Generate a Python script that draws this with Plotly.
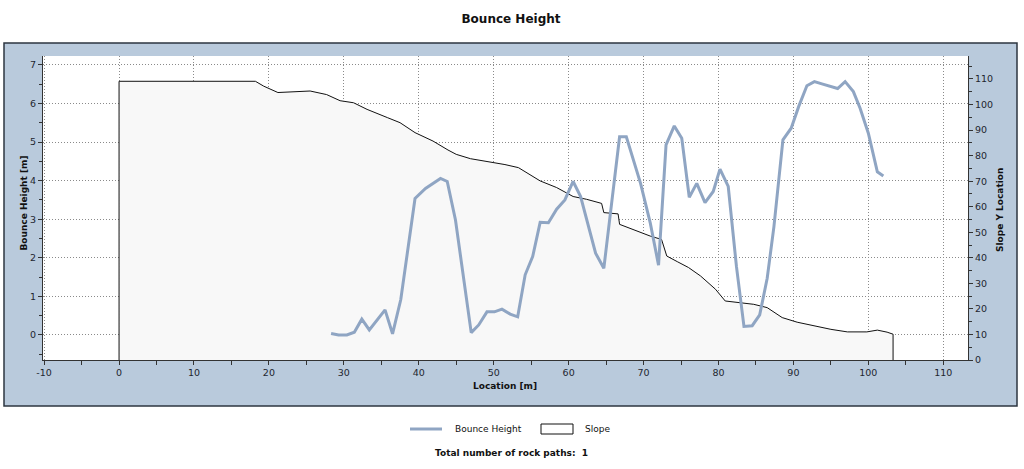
import plotly.graph_objects as go

# ---------------- data ----------------
slope_x = [0, 0, 18.2, 19.3, 21.2, 23.5, 25.5, 27.7, 29.5, 31.3, 33.1, 35.8, 37.5, 39.5, 41.9,
           43.9, 45.0, 46.9, 48.5, 50.0, 51.5, 53.3, 54.8, 56.2, 58.4, 60.6, 62.4, 64.4, 64.7,
           66.6, 66.8, 70.9, 72.4, 73.1, 74.5, 76.0, 77.6, 79.6, 80.9, 82.5, 84.7, 86.5, 88.5,
           90.5, 92.7, 95.0, 97.2, 99.8, 101.2, 102.5, 103.3, 103.3]
slope_y = [0, 109.1, 109.1, 107.2, 104.7, 105.0, 105.3, 103.9, 101.5, 100.7, 98.1, 94.9, 92.9, 89.0, 85.7,
           82.2, 80.5, 78.8, 78.0, 77.3, 76.5, 75.3, 72.5, 70.1, 67.5, 64.0, 62.9, 61.3, 57.7,
           57.2, 53.1, 48.5, 47.2, 40.7, 38.5, 36.2, 32.9, 27.7, 23.1, 22.5, 21.8, 20.5, 16.6,
           14.8, 13.3, 12.0, 11.0, 11.0, 11.7, 10.9, 10.1, 0]

bounce_x = [28.3, 29.3, 30.4, 31.4, 32.4, 33.4, 35.5, 36.5, 37.6, 39.5, 40.9, 42.9, 43.8, 44.9,
            47.0, 48.0, 49.1, 50.1, 51.1, 52.2, 53.2, 54.2, 55.2, 56.2, 57.3, 58.4, 59.5, 60.6,
            61.6, 63.6, 64.7, 66.8, 67.7, 68.5, 69.6, 70.9, 72.0, 73.0, 74.1, 75.1, 76.1, 77.1,
            78.2, 79.3, 80.2, 81.3, 82.4, 83.4, 84.5, 85.5, 86.5, 87.4, 88.6, 89.7, 90.7, 91.8,
            92.8, 93.8, 94.9, 95.9, 96.9, 98.0, 98.9, 100.0, 101.2, 102.0]
bounce_h = [0.04, 0.0, 0.0, 0.07, 0.41, 0.13, 0.65, 0.03, 0.92, 3.54, 3.80, 4.06, 3.98, 2.98,
            0.06, 0.26, 0.60, 0.60, 0.67, 0.54, 0.47, 1.56, 2.03, 2.92, 2.91, 3.26, 3.50, 3.98,
            3.59, 2.12, 1.73, 5.14, 5.14, 4.62, 3.93, 2.90, 1.81, 4.93, 5.42, 5.10, 3.57, 3.93,
            3.43, 3.72, 4.30, 3.85, 1.77, 0.22, 0.24, 0.52, 1.47, 2.81, 5.06, 5.36, 5.92, 6.46,
            6.57, 6.51, 6.44, 6.39, 6.57, 6.31, 5.88, 5.23, 4.23, 4.12]

x_tick_vals = [-10, 0, 10, 20, 30, 40, 50, 60, 70, 80, 90, 100, 110]
x_tick_text = ["-10", "0", "10", "20", "30", "40", "50", "60", "70", "80", "90", "100", "110"]

title_text = "Bounce Height"
x_title = "Location [m]"
y_left_title = "Bounce Height [m]"
y_right_title = "Slope Y Location"
footer_text = "Total number of rock paths:\u00a0 1"

# ---------------- layout geometry ----------------
W, H = 1024, 469
L, R, T, B = 43, 968, 56, 360
PW, PH = R - L, B - T


def px(xp):
    return (xp - L) / PW


def py(yp):
    return (B - yp) / PH


FONT = "DejaVu Sans"
TXT = "#1e2630"
AX = "#333333"
BOUNCE_COLOR = "#8FA5C3"
PANEL = "#B9CADC"
GRID = "#8a8a8a"
DOT = "1px,2px"

fig = go.Figure()
fig.add_trace(go.Scatter(x=bounce_x, y=bounce_h, mode="lines", name="Bounce Height",
                         line=dict(color=BOUNCE_COLOR, width=3), yaxis="y2",
                         showlegend=False))
fig.add_trace(go.Scatter(x=slope_x, y=slope_y, mode="lines", name="Slope",
                         line=dict(color="#111111", width=1), fill="tozeroy",
                         fillcolor="#F8F8F8", yaxis="y", showlegend=False))

tickfont = dict(family=FONT, size=9.5, color=TXT)

fig.update_layout(
    width=W, height=H, autosize=False,
    margin=dict(l=L, r=W - R, t=T, b=H - B, pad=0),
    paper_bgcolor="white", plot_bgcolor="white",
    title=dict(text="<b>" + title_text + "</b>", x=511 / W, xanchor="center",
               y=1 - 19 / H, yanchor="middle", font=dict(family=FONT, size=12, color="#111")),
    xaxis=dict(range=[-10.15, 113.3], tickmode="array", tickvals=x_tick_vals,
               ticktext=x_tick_text, showgrid=True, griddash=DOT,
               gridcolor=GRID, gridwidth=1, zeroline=False, showline=True,
               linecolor=AX, linewidth=1, ticks="outside", ticklen=4, tickcolor=AX,
               tickfont=tickfont,
               minor=dict(dtick=5, tick0=0, ticks="outside", ticklen=4, tickcolor=AX,
                          showgrid=False)),
    yaxis=dict(range=[0, 119.0], tick0=0, dtick=10, side="right", showgrid=False,
               zeroline=False, showline=True, linecolor=AX, linewidth=1, ticks="outside",
               ticklen=4, tickcolor=AX, tickfont=tickfont,
               minor=dict(dtick=5, tick0=0, ticks="outside", ticklen=3, tickcolor=AX,
                          showgrid=False)),
    yaxis2=dict(range=[-0.649, 7.233], tick0=0, dtick=1, side="left", overlaying="y",
                showgrid=True, griddash=DOT, gridcolor=GRID, gridwidth=1,
                zeroline=False, showline=True, linecolor=AX, linewidth=1, ticks="outside",
                ticklen=4, tickcolor=AX, tickfont=tickfont,
                minor=dict(dtick=0.5, tick0=0, ticks="outside", ticklen=3, tickcolor=AX,
                           showgrid=False)),
    showlegend=False,
)

shapes = [
    dict(type="rect", xref="paper", yref="paper", x0=px(4), x1=px(1017), y0=py(406), y1=py(43),
         fillcolor=PANEL, line=dict(color="#2d3640", width=1.5), layer="below"),
    dict(type="rect", xref="paper", yref="paper", x0=0, x1=1, y0=0, y1=1,
         fillcolor="white", line=dict(width=0), layer="below"),
    # legend symbols
    dict(type="line", xref="paper", yref="paper", x0=px(410), x1=px(442), y0=py(429), y1=py(429),
         line=dict(color=BOUNCE_COLOR, width=3), layer="above"),
    dict(type="rect", xref="paper", yref="paper", x0=px(541), x1=px(573), y0=py(434), y1=py(424),
         fillcolor="white", line=dict(color="#111", width=1), layer="above"),
]
fig.update_layout(shapes=shapes)

bold9 = dict(family=FONT, size=9, color="#111")
reg9 = dict(family=FONT, size=9, color="#111")
annotations = [
    dict(text="<b>" + y_left_title + "</b>", x=px(23.5), y=py(203), xref="paper", yref="paper",
         textangle=-90, showarrow=False, font=bold9, xanchor="center", yanchor="middle"),
    dict(text="<b>" + y_right_title + "</b>", x=px(1000), y=py(210), xref="paper", yref="paper",
         textangle=-90, showarrow=False, font=bold9, xanchor="center", yanchor="middle"),
    dict(text="<b>" + x_title + "</b>", x=px(505), y=py(386), xref="paper", yref="paper",
         showarrow=False, font=bold9, xanchor="center", yanchor="middle"),
    dict(text="Bounce Height", x=px(453), y=py(429), xref="paper", yref="paper",
         showarrow=False, font=reg9, xanchor="left", yanchor="middle"),
    dict(text="Slope", x=px(583), y=py(429), xref="paper", yref="paper",
         showarrow=False, font=reg9, xanchor="left", yanchor="middle"),
    dict(text="<b>" + footer_text + "</b>", x=px(511), y=py(453), xref="paper", yref="paper",
         showarrow=False, font=bold9, xanchor="center", yanchor="middle"),
]
fig.update_layout(annotations=annotations)

fig.write_html("out.html")
